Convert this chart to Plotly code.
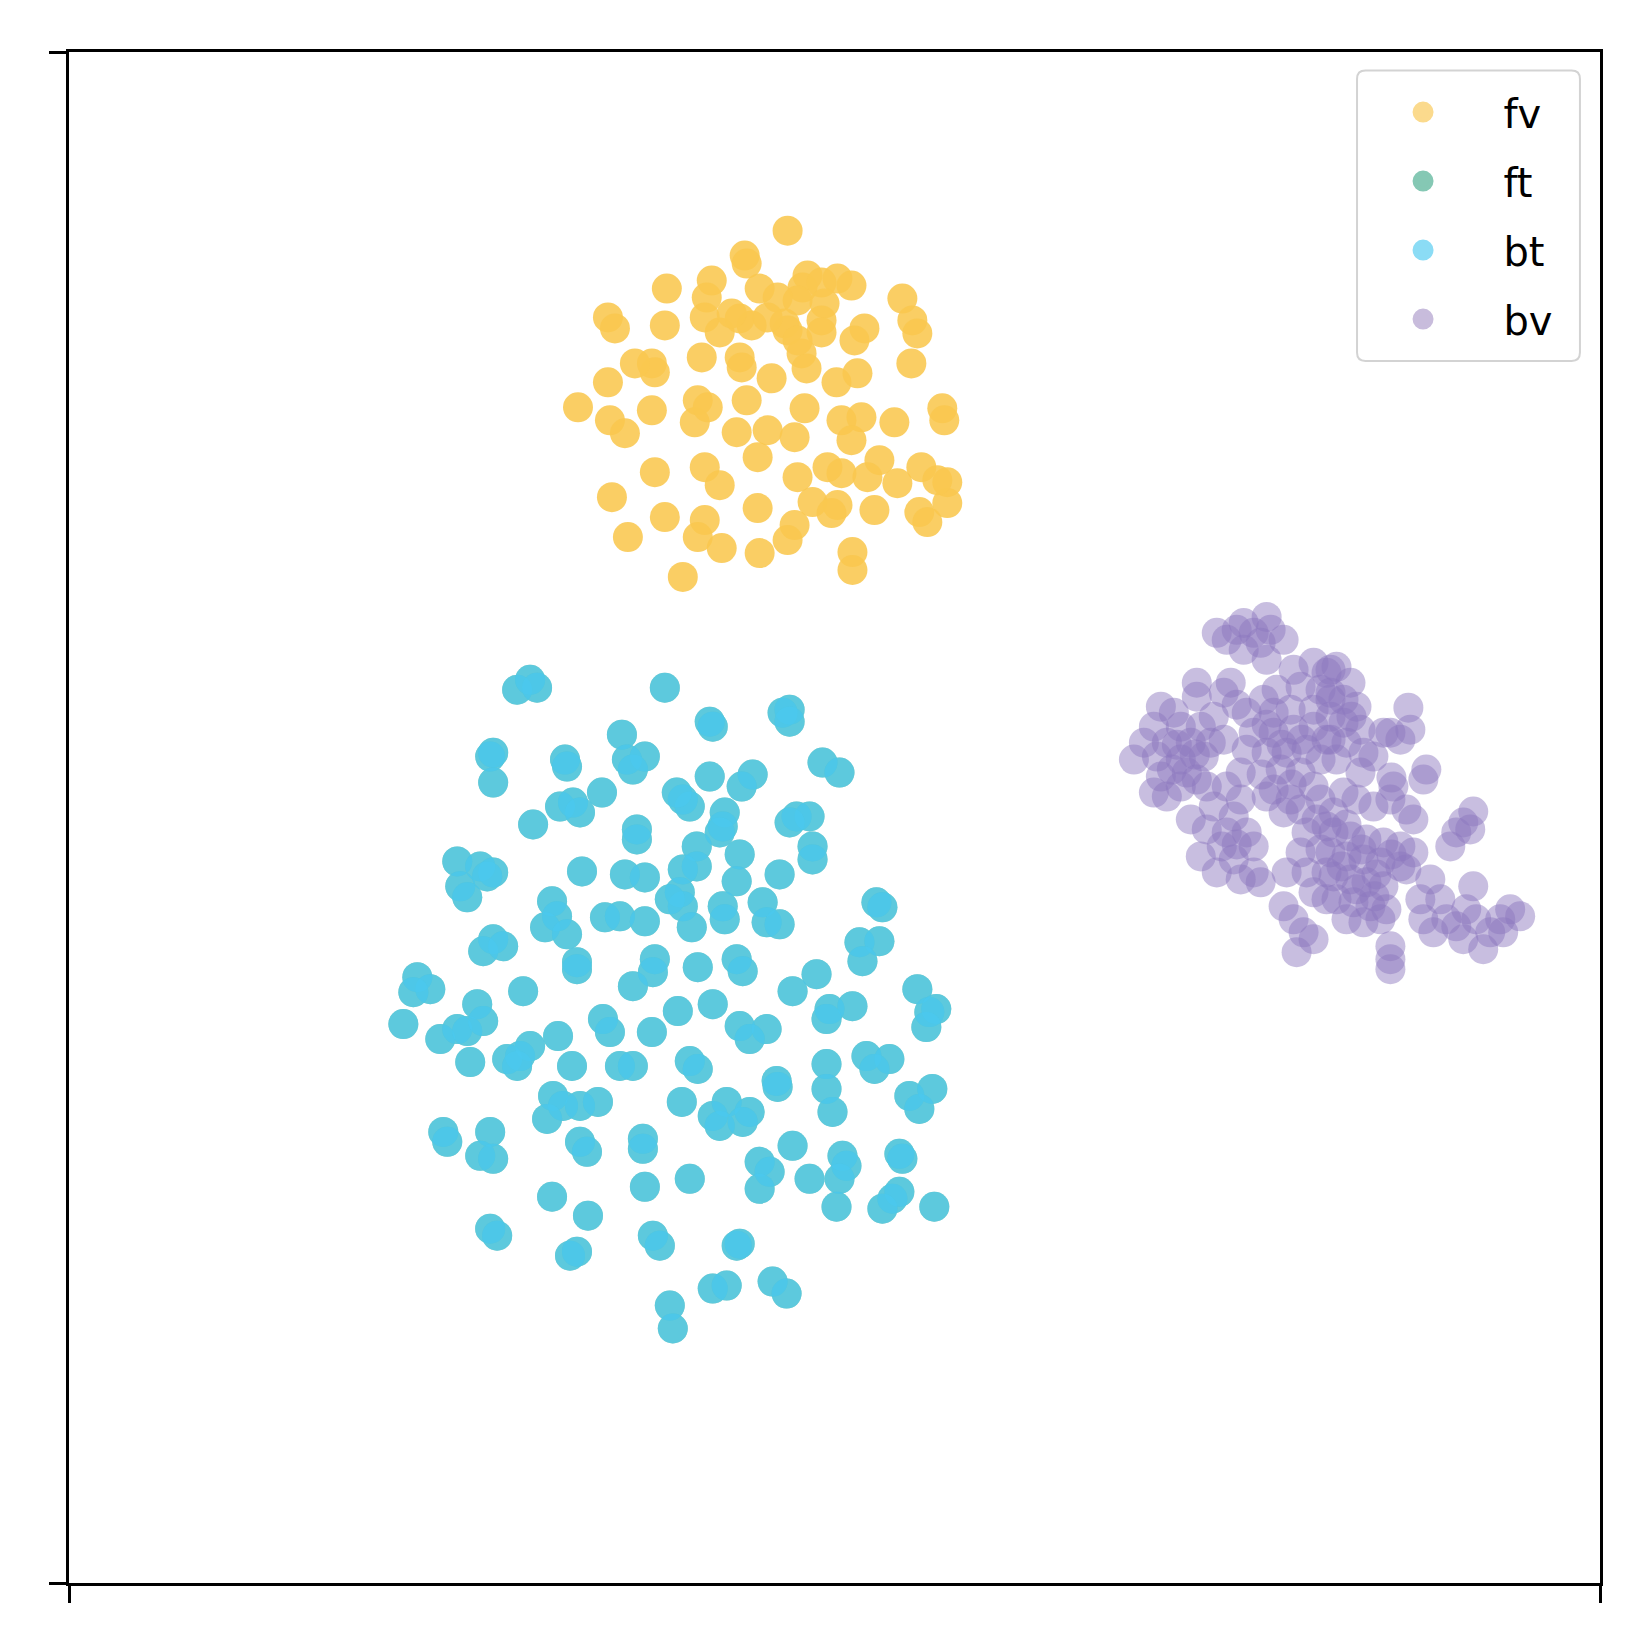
import plotly.graph_objects as go

# t-SNE style embedding (arbitrary units)
fv_points = [
    (72.0, 135.5), (67.7, 133.0), (67.9, 132.2), (59.9, 129.7), (64.4, 130.5), (63.9, 128.8),
    (69.2, 129.7), (74.0, 131.0), (73.5, 129.8), (75.4, 130.3), (77.0, 130.7), (78.4, 130.0),
    (73.0, 128.5), (75.7, 128.2), (71.0, 128.8), (83.5, 128.7), (84.5, 126.5), (85.0, 125.2),
    (84.4, 122.2), (54.0, 126.8), (54.7, 125.7), (59.7, 126.0), (63.7, 126.8), (65.2, 125.3),
    (67.2, 126.7), (68.4, 126.0), (71.7, 126.2), (72.0, 125.5), (75.4, 126.5), (75.4, 125.3),
    (79.7, 125.7), (78.7, 124.5), (73.4, 123.2), (73.9, 121.7), (63.4, 122.8), (67.2, 122.8),
    (67.4, 121.8), (58.4, 122.2), (58.7, 121.3), (54.0, 120.3), (70.4, 120.7), (76.9, 120.3),
    (79.0, 121.2), (51.0, 117.8), (54.2, 116.5), (55.7, 115.2), (58.4, 117.5), (63.0, 118.5),
    (62.7, 116.3), (64.0, 117.8), (67.9, 118.5), (66.9, 115.3), (73.7, 117.7), (70.0, 115.5),
    (72.7, 114.8), (69.0, 112.8), (77.4, 116.5), (79.4, 116.8), (78.4, 114.5), (82.7, 116.3),
    (87.5, 117.7), (87.7, 116.5), (58.7, 111.3), (63.7, 111.8), (65.2, 110.0), (73.0, 110.8),
    (76.0, 111.8), (77.4, 111.2), (81.2, 112.5), (80.0, 110.8), (83.0, 110.2), (85.4, 111.8),
    (88.0, 110.3), (88.0, 108.2), (54.4, 108.8), (59.7, 106.8), (56.0, 104.8), (63.7, 106.5),
    (63.0, 104.8), (65.4, 103.7), (69.0, 107.7), (72.7, 106.0), (72.0, 104.5), (69.2, 103.2),
    (74.5, 108.3), (77.0, 108.0), (76.4, 107.2), (80.7, 107.5), (85.2, 107.3), (86.0, 106.3),
    (78.5, 103.3), (78.5, 101.5), (61.5, 100.8), (66.4, 127.2), (70.0, 126.8), (56.7, 122.2),
    (73.0, 124.5), (87.0, 110.5),
]

bt_points = [
    (44.9, 89.5), (46.2, 90.5), (46.9, 89.7), (59.7, 89.7), (42.2, 82.8), (42.5, 83.2),
    (42.5, 80.2), (49.7, 82.5), (49.9, 81.8), (55.4, 85.0), (55.9, 82.5), (57.7, 82.8),
    (56.5, 81.5), (53.4, 79.2), (49.2, 77.8), (50.5, 78.2), (51.2, 77.2), (46.5, 76.0),
    (56.9, 75.5), (56.9, 74.5), (38.9, 72.3), (41.2, 71.8), (42.5, 71.2), (39.2, 69.8),
    (39.9, 68.7), (41.9, 70.8), (51.4, 71.3), (55.7, 71.0), (57.7, 70.7), (48.4, 68.3),
    (48.9, 66.8), (47.7, 65.7), (49.9, 65.0), (53.7, 66.7), (55.2, 66.8), (57.7, 66.3),
    (42.5, 64.5), (41.5, 63.3), (43.5, 63.8), (50.9, 62.2), (50.9, 61.5), (58.7, 62.5),
    (58.5, 61.2), (56.5, 59.8), (34.9, 60.7), (36.2, 59.5), (34.5, 59.2), (45.5, 59.3),
    (64.2, 86.3), (64.5, 85.8), (71.5, 87.2), (72.2, 87.5), (72.2, 86.3), (75.5, 82.2),
    (77.2, 81.2), (64.2, 80.8), (68.5, 81.0), (67.4, 79.8), (61.5, 78.5), (62.2, 77.8),
    (60.9, 79.2), (65.7, 77.2), (65.5, 75.8), (65.2, 75.2), (72.9, 76.8), (74.2, 76.8),
    (72.2, 76.2), (74.5, 73.8), (74.5, 72.5), (62.9, 73.8), (62.9, 71.8), (61.5, 71.5),
    (67.2, 73.0), (66.9, 70.3), (71.2, 71.0), (61.2, 69.2), (61.5, 67.8), (62.4, 65.7),
    (60.2, 68.5), (65.5, 67.8), (65.7, 66.5), (69.5, 68.2), (69.9, 66.2), (71.2, 66.0),
    (80.9, 68.2), (81.5, 67.7), (79.2, 64.2), (81.2, 64.3), (79.5, 62.3), (63.0, 61.7),
    (66.9, 62.5), (67.5, 61.3), (74.9, 61.0), (72.5, 59.3), (85.0, 59.5),
    (33.5, 56.0), (37.2, 54.5), (38.9, 55.5), (39.9, 55.3), (40.9, 58.0), (41.5, 56.3),
    (40.2, 52.2), (43.9, 52.5), (45.2, 52.8), (46.2, 53.8), (44.9, 51.8), (49.0, 54.8),
    (53.5, 56.5), (54.2, 55.2), (50.4, 51.8), (55.2, 51.8), (56.5, 51.8), (58.4, 55.2),
    (48.5, 48.8), (49.5, 47.8), (47.9, 46.5), (51.2, 47.8), (53.0, 48.2), (37.5, 45.2),
    (37.9, 44.2), (42.2, 45.2), (41.2, 42.8), (42.5, 42.5), (51.2, 44.2), (51.9, 43.2),
    (57.5, 44.5), (57.5, 43.5), (48.4, 38.7), (52.0, 36.8), (57.7, 39.7), (42.2, 35.5),
    (42.9, 34.8), (50.2, 32.8), (50.9, 33.2), (58.5, 34.8), (59.2, 33.8), (60.2, 27.8),
    (60.5, 25.5), (61.0, 57.3), (64.5, 58.0), (67.2, 55.8), (69.9, 55.5), (68.2, 54.5),
    (76.2, 57.5), (78.5, 57.8), (75.9, 56.5), (86.2, 57.2), (86.9, 57.5), (85.9, 55.7),
    (62.2, 52.3), (63.0, 51.5), (70.9, 50.3), (71.0, 49.7), (75.9, 52.0), (75.9, 49.5),
    (76.5, 47.2), (79.9, 52.8), (82.2, 52.5), (80.7, 51.5), (84.2, 48.8), (86.5, 49.5),
    (85.2, 47.5), (61.4, 48.2), (64.5, 46.8), (65.9, 48.2), (65.2, 45.8), (68.2, 47.2),
    (67.5, 46.2), (72.5, 43.8), (69.2, 42.2), (70.2, 41.2), (69.2, 39.5), (74.2, 40.5),
    (77.5, 42.8), (77.9, 41.8), (77.2, 40.5), (83.2, 43.0), (83.5, 42.5), (82.5, 38.5),
    (83.2, 39.2), (81.5, 37.5), (76.9, 37.7), (86.7, 37.7), (62.2, 40.5), (67.2, 34.0),
    (66.9, 33.8), (64.5, 29.5), (65.9, 29.8), (70.5, 30.2), (71.9, 29.0),
]

# the ft samples sit underneath the bt samples in the picture
ft_points = list(bt_points)

bv_points = [
    (115.0, 95.2), (116.0, 94.5), (117.0, 95.5), (117.7, 96.2), (118.7, 95.2), (120.0, 96.8),
    (120.4, 95.5), (119.4, 94.2), (121.7, 94.5), (120.0, 92.5), (117.7, 93.5),
    (122.7, 91.5), (124.7, 92.2), (126.0, 91.2), (123.4, 89.8), (125.4, 89.5), (126.4, 88.5),
    (124.7, 87.5), (113.0, 90.2), (113.0, 88.8), (116.4, 90.2), (115.7, 89.2), (109.4, 87.8),
    (110.7, 87.2), (108.7, 85.8), (111.4, 85.8), (113.4, 85.8), (114.7, 86.8), (107.7, 84.2),
    (110.0, 84.2), (112.4, 84.2), (114.4, 84.2), (106.7, 82.5), (109.0, 82.8), (111.4, 82.5),
    (113.7, 82.8), (115.7, 84.5), (109.4, 80.8), (112.0, 81.2), (108.7, 79.2), (110.0, 78.8),
    (111.4, 79.8), (118.0, 87.2), (119.7, 88.5), (120.7, 87.2), (122.4, 87.5), (118.7, 85.2),
    (120.7, 85.2), (122.7, 85.5), (124.7, 85.8), (126.0, 84.5), (118.0, 83.5), (120.0, 83.2),
    (122.0, 83.2), (124.0, 83.5), (125.4, 82.5), (121.4, 81.5), (123.4, 81.2), (117.4, 81.2),
    (114.0, 79.8), (116.0, 79.8), (117.4, 78.5), (114.7, 77.8), (116.7, 76.8), (112.4, 76.5),
    (114.0, 75.5), (116.0, 75.2), (118.0, 75.2), (118.7, 73.8), (113.4, 72.8), (115.0, 71.2),
    (116.7, 72.5), (118.7, 71.2), (119.4, 70.2), (117.4, 70.5), (120.7, 79.5), (122.4, 78.5),
    (124.7, 79.8), (121.7, 77.2), (123.4, 77.5), (125.4, 78.5), (120.0, 78.8), (124.0, 75.2),
    (126.0, 75.8), (123.4, 73.2), (125.4, 73.5), (122.0, 71.2), (124.0, 71.2), (126.0, 71.2),
    (124.7, 69.2), (126.0, 68.5), (121.7, 67.8), (122.7, 66.5), (123.7, 65.2), (124.7, 64.5),
    (123.0, 63.2), (126.4, 91.5), (127.0, 91.8), (128.4, 90.2), (126.4, 89.2), (127.7, 88.5),
    (129.0, 87.8), (126.4, 86.8), (127.7, 86.2), (129.4, 85.5), (126.4, 84.5), (128.0, 84.2),
    (129.7, 83.2), (130.7, 82.8), (134.2, 87.7), (134.4, 85.5), (132.4, 85.2), (133.4, 84.5),
    (131.7, 85.2), (136.0, 81.5), (135.7, 80.5), (132.5, 80.7), (132.7, 79.8), (129.4, 81.2),
    (127.7, 79.2), (129.0, 78.5), (130.7, 77.8), (132.4, 78.5), (134.0, 77.5), (134.7, 76.5),
    (126.7, 77.2), (140.7, 77.3), (139.7, 76.2), (139.0, 75.2), (138.4, 73.8), (140.4, 75.5),
    (126.7, 75.2), (128.4, 74.8), (130.0, 74.5), (131.7, 74.2), (133.4, 73.8), (126.4, 73.2),
    (128.0, 72.8), (129.7, 72.5), (131.4, 72.2), (133.4, 71.8), (126.7, 70.8), (128.4, 70.5),
    (130.0, 70.2), (131.7, 69.8), (127.0, 68.5), (128.7, 68.2), (130.4, 67.8), (132.0, 67.5),
    (128.0, 66.5), (129.7, 66.2), (131.4, 66.5), (134.0, 71.5), (134.7, 73.2), (136.4, 70.5),
    (135.4, 68.5), (137.4, 68.5), (135.7, 66.5), (138.0, 66.5), (136.7, 65.2), (139.0, 65.8),
    (140.7, 69.8), (140.0, 67.5), (141.0, 66.5), (142.4, 65.2), (141.7, 63.5), (143.7, 65.2),
    (144.4, 67.5), (145.4, 66.8), (143.4, 66.5), (139.7, 64.5), (132.4, 63.8), (132.4, 62.5),
    (132.4, 61.5),
    (111.0, 84.0), (112.8, 83.0), (110.5, 81.5), (113.0, 80.5), (120.0, 86.0), (121.5, 84.0),
    (123.5, 84.5), (119.5, 81.0), (122.5, 80.0), (128.0, 76.0), (129.5, 73.5), (131.0, 71.0),
    (129.0, 69.5), (130.8, 68.8), (127.5, 71.8), (132.5, 73.0), (125.0, 76.5), (127.0, 82.5),
    (128.5, 86.8), (117.0, 74.0), (115.5, 73.8), (121.0, 89.5), (117.0, 88.0),
]

labels = ["fv", "ft", "bt", "bv"]
series = [fv_points, ft_points, bt_points, bv_points]
colors = ["#F9C74F", "#43AA8B", "#4CC9F0", "#8C78BE"]
point_opacity = [0.88, 0.65, 0.7, 0.48]
legend_colors = ["#FBDA8D", "#85C8B4", "#8BDCF5", "#C8BCDC"]

X_MAX = 153.4
Y_MAX = 153.4

fig = go.Figure()

for name, pts, col, op in zip(labels, series, colors, point_opacity):
    xs, ys = zip(*pts)
    fig.add_trace(go.Scatter(
        x=xs, y=ys, mode="markers", name=name, showlegend=False,
        marker=dict(color=col, size=30, opacity=op, line=dict(width=0)),
        hoverinfo="skip",
    ))

# legend entries (lighter swatches like the original)
for name, lc in zip(labels, legend_colors):
    fig.add_trace(go.Scatter(
        x=[None], y=[None], mode="markers", name="\u00a0\u00a0" + name, legendgroup=name,
        marker=dict(color=lc, size=16, line=dict(width=5, color=lc)),
    ))

axis_style = dict(
    showgrid=False, zeroline=False, showline=True, linecolor="black", linewidth=3,
    mirror=True, ticks="outside", ticklen=17, tickwidth=3, tickcolor="black",
    showticklabels=False,
)

fig.update_xaxes(range=[0, X_MAX], tickvals=[0, X_MAX], **axis_style)
fig.update_yaxes(range=[0, Y_MAX], tickvals=[0, Y_MAX], **axis_style)

# rounded legend frame (paper coordinates)
x0, x1, y0, y1 = 0.8413, 0.9869, 0.7982, 0.9879
r = 0.0055
frame = (f"M {x0 + r},{y1} L {x1 - r},{y1} Q {x1},{y1} {x1},{y1 - r} "
         f"L {x1},{y0 + r} Q {x1},{y0} {x1 - r},{y0} L {x0 + r},{y0} "
         f"Q {x0},{y0} {x0},{y0 + r} L {x0},{y1 - r} Q {x0},{y1} {x0 + r},{y1} Z")

fig.update_layout(
    width=1650, height=1650,
    margin=dict(l=61, r=58, t=44, b=75),
    plot_bgcolor="white", paper_bgcolor="white",
    font=dict(family="DejaVu Sans", color="black"),
    shapes=[dict(type="path", path=frame, xref="paper", yref="paper",
                 line=dict(color="#D3D3D3", width=2), fillcolor="white", layer="above")],
    legend=dict(
        x=0.8485, y=0.982, xanchor="left", yanchor="top",
        bgcolor="rgba(0,0,0,0)", borderwidth=0,
        font=dict(size=40, family="DejaVu Sans"),
        itemwidth=100, tracegroupgap=14,
    ),
)

fig.write_html("out.html")
